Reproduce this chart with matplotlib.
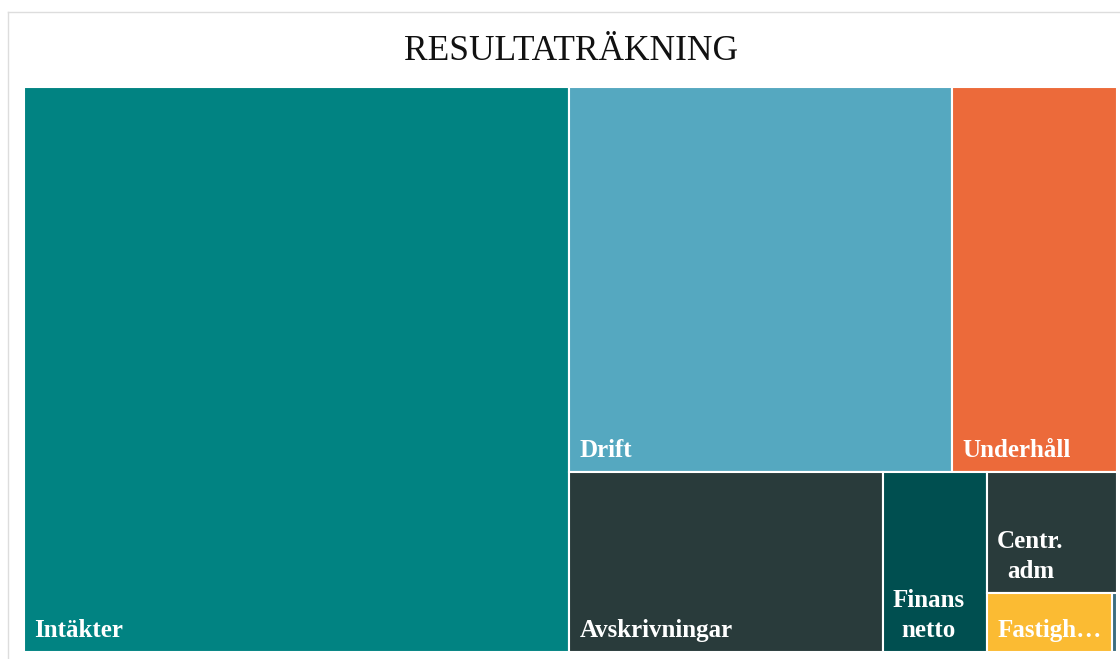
import matplotlib
matplotlib.use("Agg")
import matplotlib.pyplot as plt
from matplotlib.patches import Rectangle
from matplotlib.lines import Line2D

# data (arbitrary units)
names = ["Intäkter", "Drift", "Underhåll", "Avskrivningar", "Finans netto",
         "Centr. adm", "Fastighetsskatt", "Övrigt"]
labels = ["Intäkter", "Drift", "Underhåll", "Avskrivningar", "Finans\nnetto",
          "Centr.\nadm", "Fastigh…", ""]
values = [100.0, 47.8, 20.6, 18.3, 6.1, 5.1, 2.4, 0.09]
colors = ["#018382", "#55a8c0", "#ec6a3a", "#293b3b", "#004f50",
          "#293b3b", "#fbbb33", "#3c6d80"]


def mean_aspect(row, short):
    t = sum(row) / short
    out = []
    for a in row:
        l = a / t
        out.append(max(t / l, l / t))
    return sum(out) / len(out)


def treemap(vals, x, y, w, h):
    total = sum(vals)
    areas = [v * w * h / total for v in vals]
    rects = []
    i = 0
    while i < len(areas):
        short = min(w, h)
        row = [areas[i]]
        j = i + 1
        while j < len(areas) and mean_aspect(row + [areas[j]], short) <= mean_aspect(row, short):
            row.append(areas[j])
            j += 1
        t = sum(row) / short
        pos = 0
        for a in row:
            l = a / t
            if w >= h:
                rects.append((x, y + pos, t, l))
            else:
                rects.append((x + pos, y, l, t))
            pos += l
        if w >= h:
            x += t
            w -= t
        else:
            y += t
            h -= t
        i = j
    return rects


W, H = 1093, 565
fig = plt.figure(figsize=(11.2, 6.59), dpi=100)
ax = fig.add_axes([24 / 1120, 7 / 659, W / 1120, H / 659])
ax.set_xlim(0, W)
ax.set_ylim(H, 0)
ax.axis("off")

rects = treemap(values, 0, 0, W, H)
for (rx, ry, rw, rh), lab, c in zip(rects, labels, colors):
    ax.add_patch(Rectangle((rx, ry), rw, rh, facecolor=c, edgecolor="white", lw=1.5))
    if lab and rw > 30:
        ax.text(rx + 10, ry + rh - 10, lab, color="white", fontsize=18,
                fontweight="bold", family="Liberation Serif", linespacing=1.4,
                ha="left", va="bottom", multialignment="center")

fig.text(571 / 1120, 1 - 51 / 659, "RESULTATRÄKNING", ha="center", va="center",
         fontsize=25.5, family="Liberation Serif", color="#111111")

# light frame around the visual
fig.add_artist(Line2D([8 / 1120, 1.0], [1 - 12 / 659] * 2, color="#dddddd", lw=1))
fig.add_artist(Line2D([8 / 1120] * 2, [0, 1 - 12 / 659], color="#dddddd", lw=1))

fig.savefig("out.png", dpi=100)
